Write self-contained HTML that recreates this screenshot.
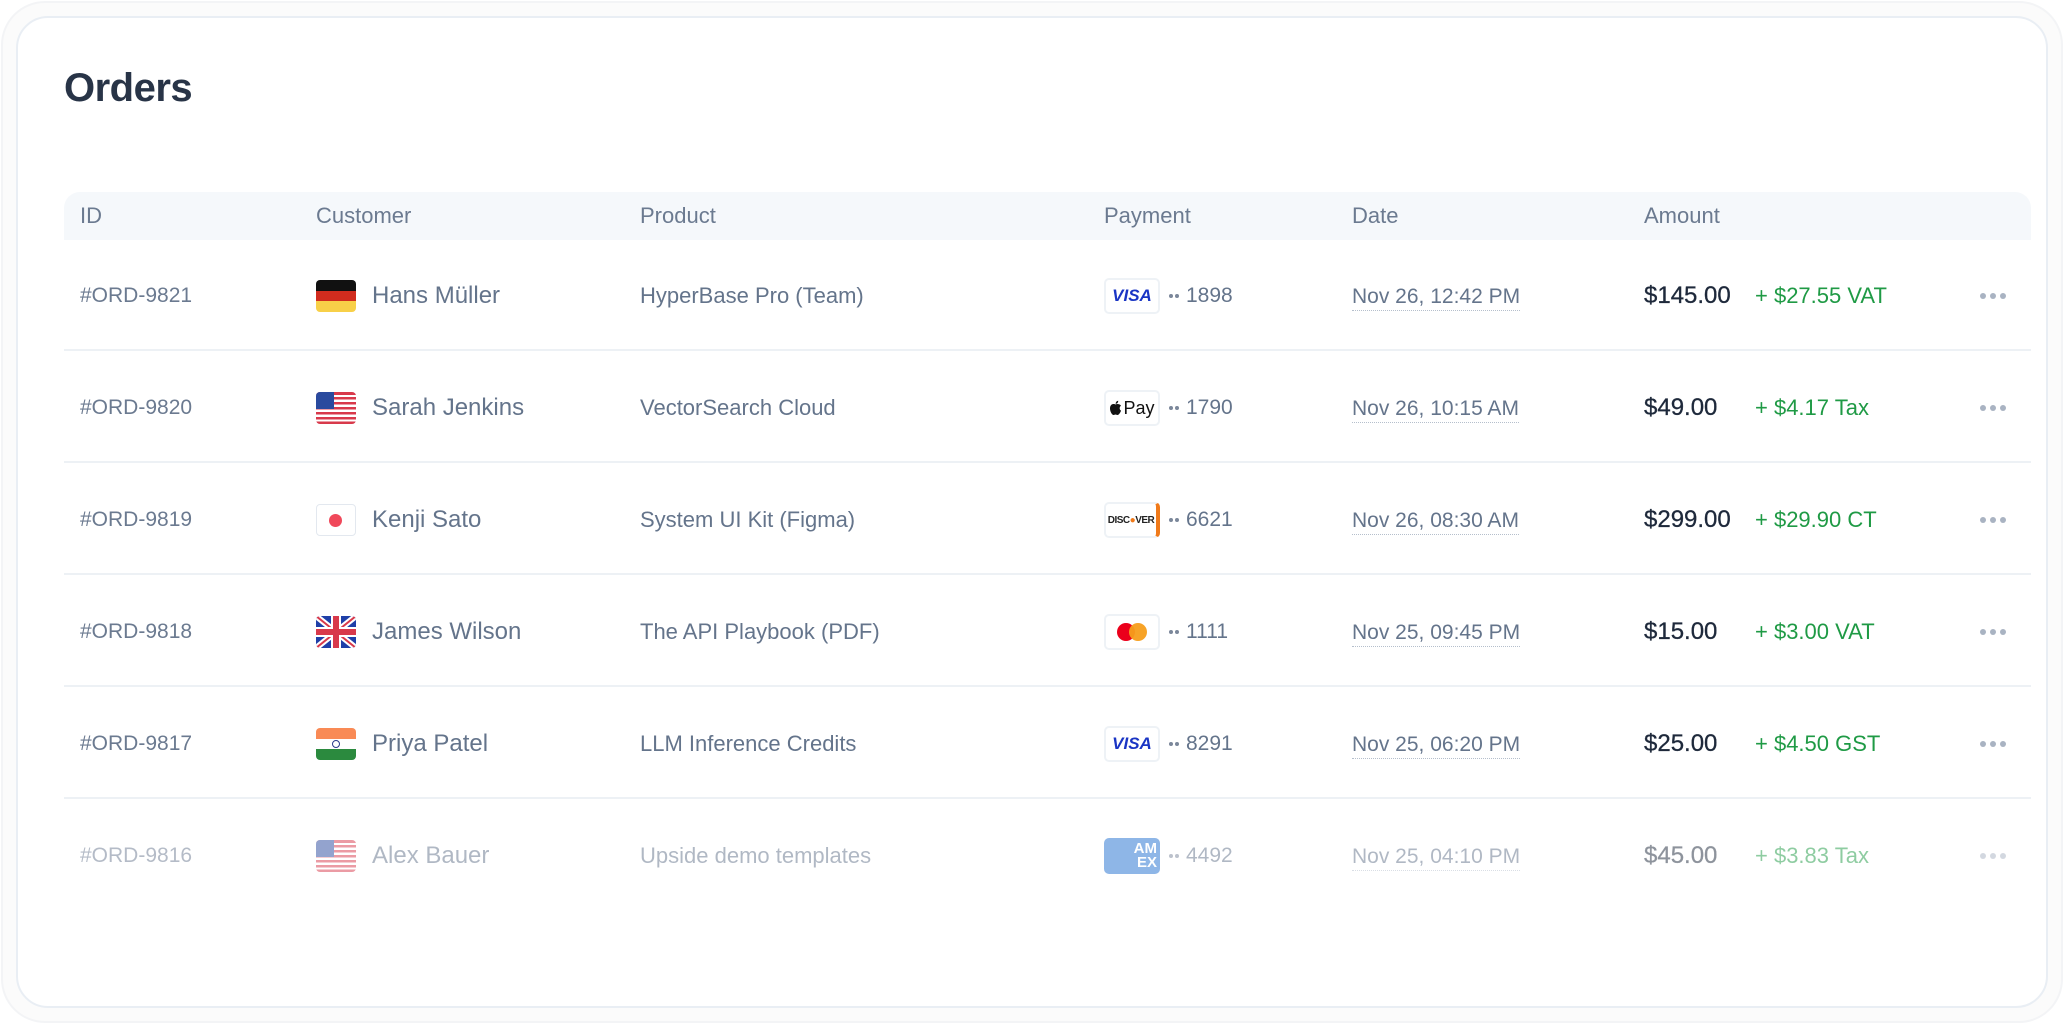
<!DOCTYPE html>
<html><head><meta charset="utf-8"><style>
*{margin:0;padding:0;box-sizing:border-box}
body{width:2064px;height:1024px;background:#fff;font-family:"Liberation Sans",sans-serif;position:relative;overflow:hidden}
.outer{position:absolute;left:1px;top:1px;width:2062px;height:1022px;background:#fbfbfb;border:2px solid #f3f4f6;border-radius:44px}
.card{position:absolute;left:16px;top:16px;width:2032px;height:992px;background:#fff;border:2px solid #e9eef4;border-radius:32px}
h1{position:absolute;left:64px;top:66px;font-size:40px;font-weight:bold;color:#283447;letter-spacing:-0.5px}
.hdr{position:absolute;left:64px;top:192px;width:1967px;height:48px;background:#f5f8fb;border-radius:16px 16px 0 0}
.t{position:absolute;white-space:nowrap;transform:translateY(-50%)}
.h{font-size:22px;color:#6b7a90;top:216px}
.sep{position:absolute;left:64px;width:1967px;height:2px;background:#edf1f5}
.row{position:absolute;left:0;width:2064px;height:112px}
.id{left:80px;font-size:21px;color:#6b7a90}
.nm{left:372px;font-size:24px;color:#64748b}
.pr{left:640px;font-size:22px;color:#64748b}
.num{left:1186px;font-size:21px;color:#64748b}
.dt{left:1352px;font-size:21px;color:#64748b;border-bottom:1.5px dotted #b5bfcc;padding-bottom:1px;margin-top:2px}
.am{left:1644px;font-size:24px;color:#1e293b;-webkit-text-stroke:0.3px #1e293b}
.tx{left:1755px;font-size:22px;color:#1f9a45}
.flag{position:absolute;left:316px;width:40px;height:32px;border-radius:4px;overflow:hidden;transform:translateY(-50%)}
.badge{position:absolute;left:1104px;width:56px;height:36px;border:2px solid #eef2f6;border-radius:5px;background:#fff;transform:translateY(-50%);display:flex;align-items:center;justify-content:center;overflow:hidden}
.dots{position:absolute;left:1980px;transform:translateY(-50%);display:flex;gap:4px}
.dots i{width:6px;height:6px;border-radius:50%;background:#a9b3c2;display:block}
.pd{position:absolute;left:1169px;transform:translateY(-50%);display:flex;gap:2px}
.pd i{width:4px;height:4px;border-radius:50%;background:#7b879a;display:block}
</style></head><body>
<div class="outer"></div>
<div class="card"></div>
<h1>Orders</h1>
<div class="hdr"></div>
<div class="t h" style="left:80px">ID</div>
<div class="t h" style="left:316px">Customer</div>
<div class="t h" style="left:640px">Product</div>
<div class="t h" style="left:1104px">Payment</div>
<div class="t h" style="left:1352px">Date</div>
<div class="t h" style="left:1644px">Amount</div>

<div class="sep" style="top:349px"></div>
<div class="sep" style="top:461px"></div>
<div class="sep" style="top:573px"></div>
<div class="sep" style="top:685px"></div>
<div class="sep" style="top:797px"></div>

<div class="row" style="top:296px">
<div class="t id">#ORD-9821</div>
<div class="flag"><div style="height:33.3%;background:#111"></div><div style="height:33.3%;background:#d12c1e"></div><div style="height:33.4%;background:#f8d048"></div></div>
<div class="t nm">Hans Müller</div>
<div class="t pr">HyperBase Pro (Team)</div>
<div class="badge"><span style="color:#1a35c4;font-weight:bold;font-style:italic;font-size:17px">VISA</span></div>
<div class="pd"><i></i><i></i></div><div class="t num">1898</div>
<div class="t dt">Nov 26, 12:42 PM</div>
<div class="t am">$145.00</div>
<div class="t tx">+ $27.55 VAT</div>
<div class="dots"><i></i><i></i><i></i></div>
</div>

<div class="row" style="top:408px">
<div class="t id">#ORD-9820</div>
<div class="flag"><svg width="40" height="32"><rect width="40" height="32" fill="#fff"/><g fill="#d8394b"><rect y="0" width="40" height="3"/><rect y="5" width="40" height="2.5"/><rect y="10" width="40" height="2.5"/><rect y="15" width="40" height="2.5"/><rect y="20" width="40" height="2.5"/><rect y="25" width="40" height="2.5"/><rect y="29.5" width="40" height="2.5"/></g><rect width="18" height="17" fill="#2a4a9e"/></svg></div>
<div class="t nm">Sarah Jenkins</div>
<div class="t pr">VectorSearch Cloud</div>
<div class="badge"><svg width="13" height="16" viewBox="0 0 13 16" style="margin-right:1px"><path d="M6.5 4.5C5 3.5 1 3.5 1 8.5c0 3 2 6.5 3.5 6.5 1 0 1.2-.5 2-.5s1 .5 2 .5C10 15 12 11.5 12 10.5c-1.5-.7-2-3.5 0-4.8C10.5 3.7 8 3.8 6.5 4.5z" fill="#111"/><path d="M6.6 3.8C6.6 2 8 .8 9.2.7 9.3 2.5 8 3.8 6.6 3.8z" fill="#111"/></svg><span style="color:#111;font-size:18px">Pay</span></div>
<div class="pd"><i></i><i></i></div><div class="t num">1790</div>
<div class="t dt">Nov 26, 10:15 AM</div>
<div class="t am">$49.00</div>
<div class="t tx">+ $4.17 Tax</div>
<div class="dots"><i></i><i></i><i></i></div>
</div>

<div class="row" style="top:520px">
<div class="t id">#ORD-9819</div>
<div class="flag" style="border:1.5px solid #e3e8ef;background:#fff"><div style="position:absolute;left:12px;top:9px;width:13px;height:13px;border-radius:50%;background:#f0485a"></div></div>
<div class="t nm">Kenji Sato</div>
<div class="t pr">System UI Kit (Figma)</div>
<div class="badge" style="border-right:4px solid #f07a1a"><span style="color:#222;font-size:10px;font-weight:bold;letter-spacing:-0.5px">DISC<span style="color:#f07a1a">●</span>VER</span></div>
<div class="pd"><i></i><i></i></div><div class="t num">6621</div>
<div class="t dt">Nov 26, 08:30 AM</div>
<div class="t am">$299.00</div>
<div class="t tx">+ $29.90 CT</div>
<div class="dots"><i></i><i></i><i></i></div>
</div>

<div class="row" style="top:632px">
<div class="t id">#ORD-9818</div>
<div class="flag"><svg width="40" height="32"><rect width="40" height="32" fill="#1f3fa8"/><path d="M0 0L40 32M40 0L0 32" stroke="#fff" stroke-width="6"/><path d="M0 0L40 32M40 0L0 32" stroke="#d8394b" stroke-width="2"/><rect x="15" width="10" height="32" fill="#fff"/><rect y="11" width="40" height="10" fill="#fff"/><rect x="17" width="6" height="32" fill="#d8394b"/><rect y="13" width="40" height="6" fill="#d8394b"/></svg></div>
<div class="t nm">James Wilson</div>
<div class="t pr">The API Playbook (PDF)</div>
<div class="badge"><svg width="40" height="24"><circle cx="14" cy="12" r="9" fill="#eb001b"/><circle cx="26" cy="12" r="9" fill="#f79e1b" opacity="0.95"/></svg></div>
<div class="pd"><i></i><i></i></div><div class="t num">1111</div>
<div class="t dt">Nov 25, 09:45 PM</div>
<div class="t am">$15.00</div>
<div class="t tx">+ $3.00 VAT</div>
<div class="dots"><i></i><i></i><i></i></div>
</div>

<div class="row" style="top:744px">
<div class="t id">#ORD-9817</div>
<div class="flag"><div style="height:33.3%;background:#f98a55"></div><div style="height:33.3%;background:#fff;position:relative"><div style="position:absolute;left:16px;top:1px;width:8px;height:8px;border:1.5px solid #2a3a8a;border-radius:50%"></div></div><div style="height:33.4%;background:#2b8a3e"></div></div>
<div class="t nm">Priya Patel</div>
<div class="t pr">LLM Inference Credits</div>
<div class="badge"><span style="color:#1a35c4;font-weight:bold;font-style:italic;font-size:17px">VISA</span></div>
<div class="pd"><i></i><i></i></div><div class="t num">8291</div>
<div class="t dt">Nov 25, 06:20 PM</div>
<div class="t am">$25.00</div>
<div class="t tx">+ $4.50 GST</div>
<div class="dots"><i></i><i></i><i></i></div>
</div>

<div class="row" style="top:856px;opacity:0.5">
<div class="t id">#ORD-9816</div>
<div class="flag"><svg width="40" height="32"><rect width="40" height="32" fill="#fff"/><g fill="#d8394b"><rect y="0" width="40" height="3"/><rect y="5" width="40" height="2.5"/><rect y="10" width="40" height="2.5"/><rect y="15" width="40" height="2.5"/><rect y="20" width="40" height="2.5"/><rect y="25" width="40" height="2.5"/><rect y="29.5" width="40" height="2.5"/></g><rect width="18" height="17" fill="#2a4a9e"/></svg></div>
<div class="t nm">Alex Bauer</div>
<div class="t pr">Upside demo templates</div>
<div class="badge" style="background:#1f6fd0;border-color:#1f6fd0;justify-content:flex-end"><span style="color:#fff;font-weight:bold;font-size:15px;line-height:14px;text-align:right;padding-right:1px">AM<br>EX</span></div>
<div class="pd"><i></i><i></i></div><div class="t num">4492</div>
<div class="t dt">Nov 25, 04:10 PM</div>
<div class="t am">$45.00</div>
<div class="t tx">+ $3.83 Tax</div>
<div class="dots"><i></i><i></i><i></i></div>
</div>
</body></html>
